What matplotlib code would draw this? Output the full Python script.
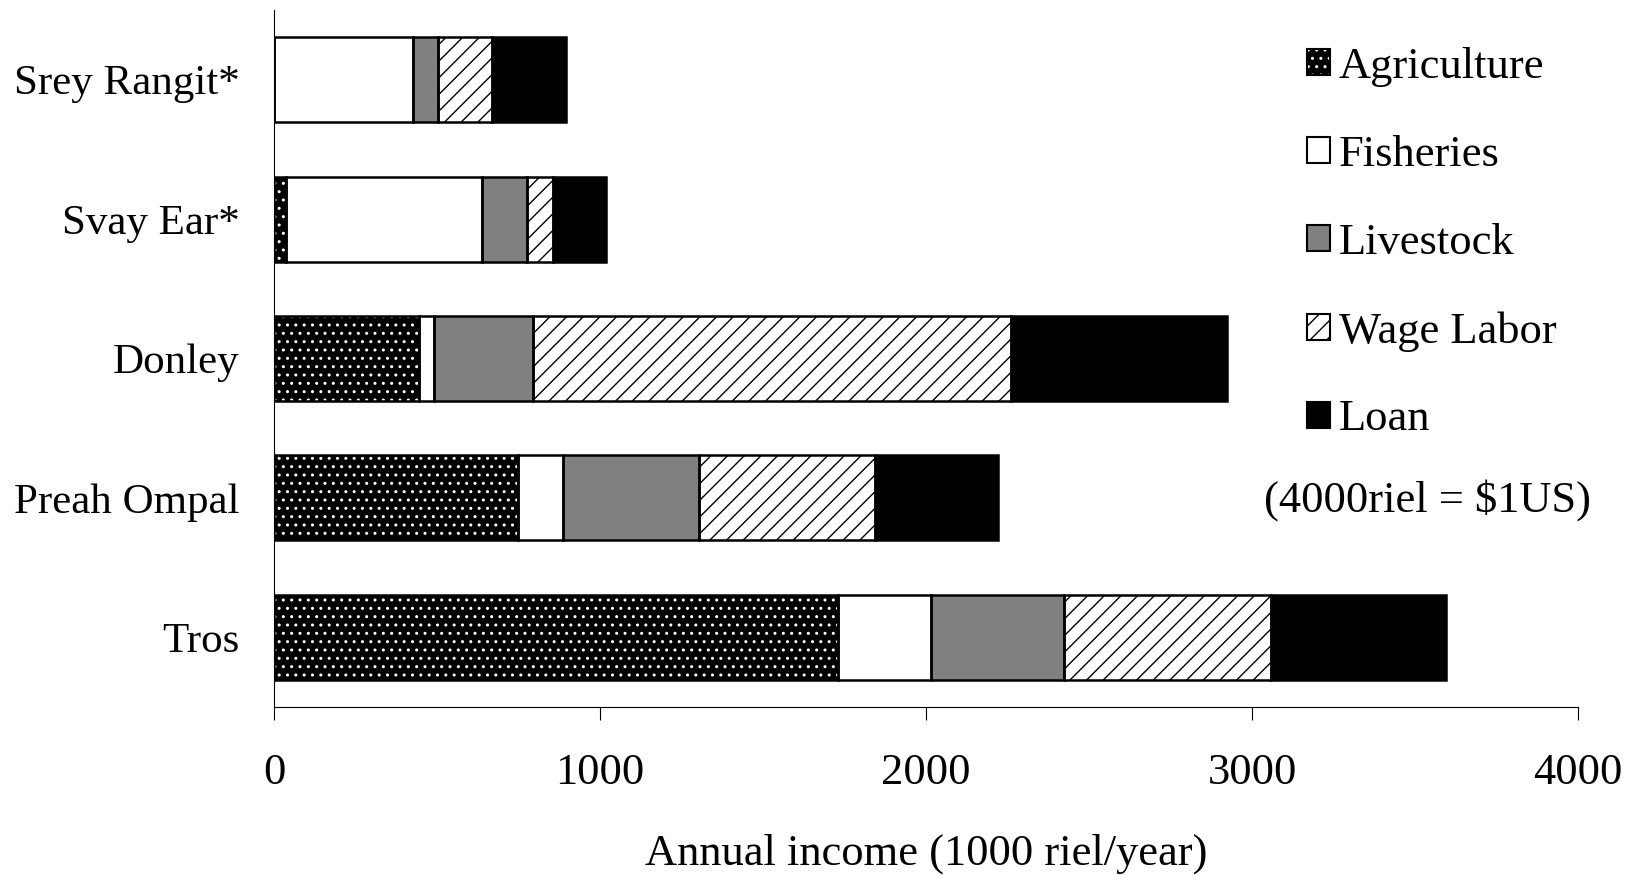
import matplotlib
matplotlib.use('Agg')
import matplotlib.pyplot as plt
import numpy as np
from matplotlib.patches import Patch

plt.rcParams['font.family'] = ['Liberation Serif', 'DejaVu Serif']
plt.rcParams['hatch.linewidth'] = 1.0

villages = ['Tros', 'Preah Ompal', 'Donley', 'Svay Ear*', 'Srey Rangit*']
agriculture = [1731, 748, 445, 36, 0]
fisheries = [283, 140, 46, 601, 427]
livestock = [408, 417, 304, 138, 77]
wage_labor = [635, 538, 1466, 80, 164]
loan = [538, 377, 661, 163, 228]

sources = ['Agriculture', 'Fisheries', 'Livestock', 'Wage Labor', 'Loan']
series = [agriculture, fisheries, livestock, wage_labor, loan]
# (face, hatch, hatch colour)
styles = [('black', '..', 'white'),
          ('white', '', 'black'),
          ('#808080', '', 'black'),
          ('white', '//', 'black'),
          ('black', '', 'black')]

fig = plt.figure(figsize=(16.27, 8.75), dpi=100)
ax = fig.add_axes([274 / 1627, 1 - 707 / 875, 1304 / 1627, 697 / 875])

y = np.arange(len(villages))
left = np.zeros(len(villages))
handles = []
for name, vals, (fc, hatch, hc) in zip(sources, series, styles):
    vals = np.array(vals, dtype=float)
    # fill + hatch first, then outline on top
    ax.barh(y, vals, left=left, height=0.61, color=fc, hatch=hatch,
            edgecolor=hc, linewidth=0, zorder=2)
    ax.barh(y, vals, left=left, height=0.61, color='none',
            edgecolor='black', linewidth=1.8, zorder=3)
    left += vals
    handles.append((Patch(facecolor=fc, hatch=hatch, edgecolor=hc, linewidth=0),
                    Patch(facecolor='none', edgecolor='black', linewidth=1.5)))

ax.set_xlim(0, 4000)
ax.set_ylim(-0.5, 4.5)
ax.set_xticks([0, 1000, 2000, 3000, 4000])
ax.set_yticks(y)
ax.set_yticklabels(villages)
ax.tick_params(axis='y', length=0, pad=25, labelsize=31)
ax.tick_params(axis='x', length=9, width=0.8, pad=24, labelsize=32, direction='out')
ax.spines['top'].set_visible(False)
ax.spines['right'].set_visible(False)
ax.spines['left'].set_linewidth(0.8)
ax.spines['bottom'].set_linewidth(0.8)
ax.set_xlabel('Annual income (1000 riel/year)', fontsize=32, labelpad=29)

fig.legend(handles, sources, loc='upper left',
           bbox_to_anchor=(1307 / 1627, 1 - 47 / 875), frameon=False,
           fontsize=32, handlelength=0.52, handleheight=0.52,
           handletextpad=0.2, labelspacing=1.08, borderpad=0, borderaxespad=0)
fig.text(1427 / 1627, 1 - 500 / 875, r'(4000riel = \$1US)', fontsize=32,
         ha='center', va='center')

fig.savefig('out.png', dpi=100, facecolor='white')
